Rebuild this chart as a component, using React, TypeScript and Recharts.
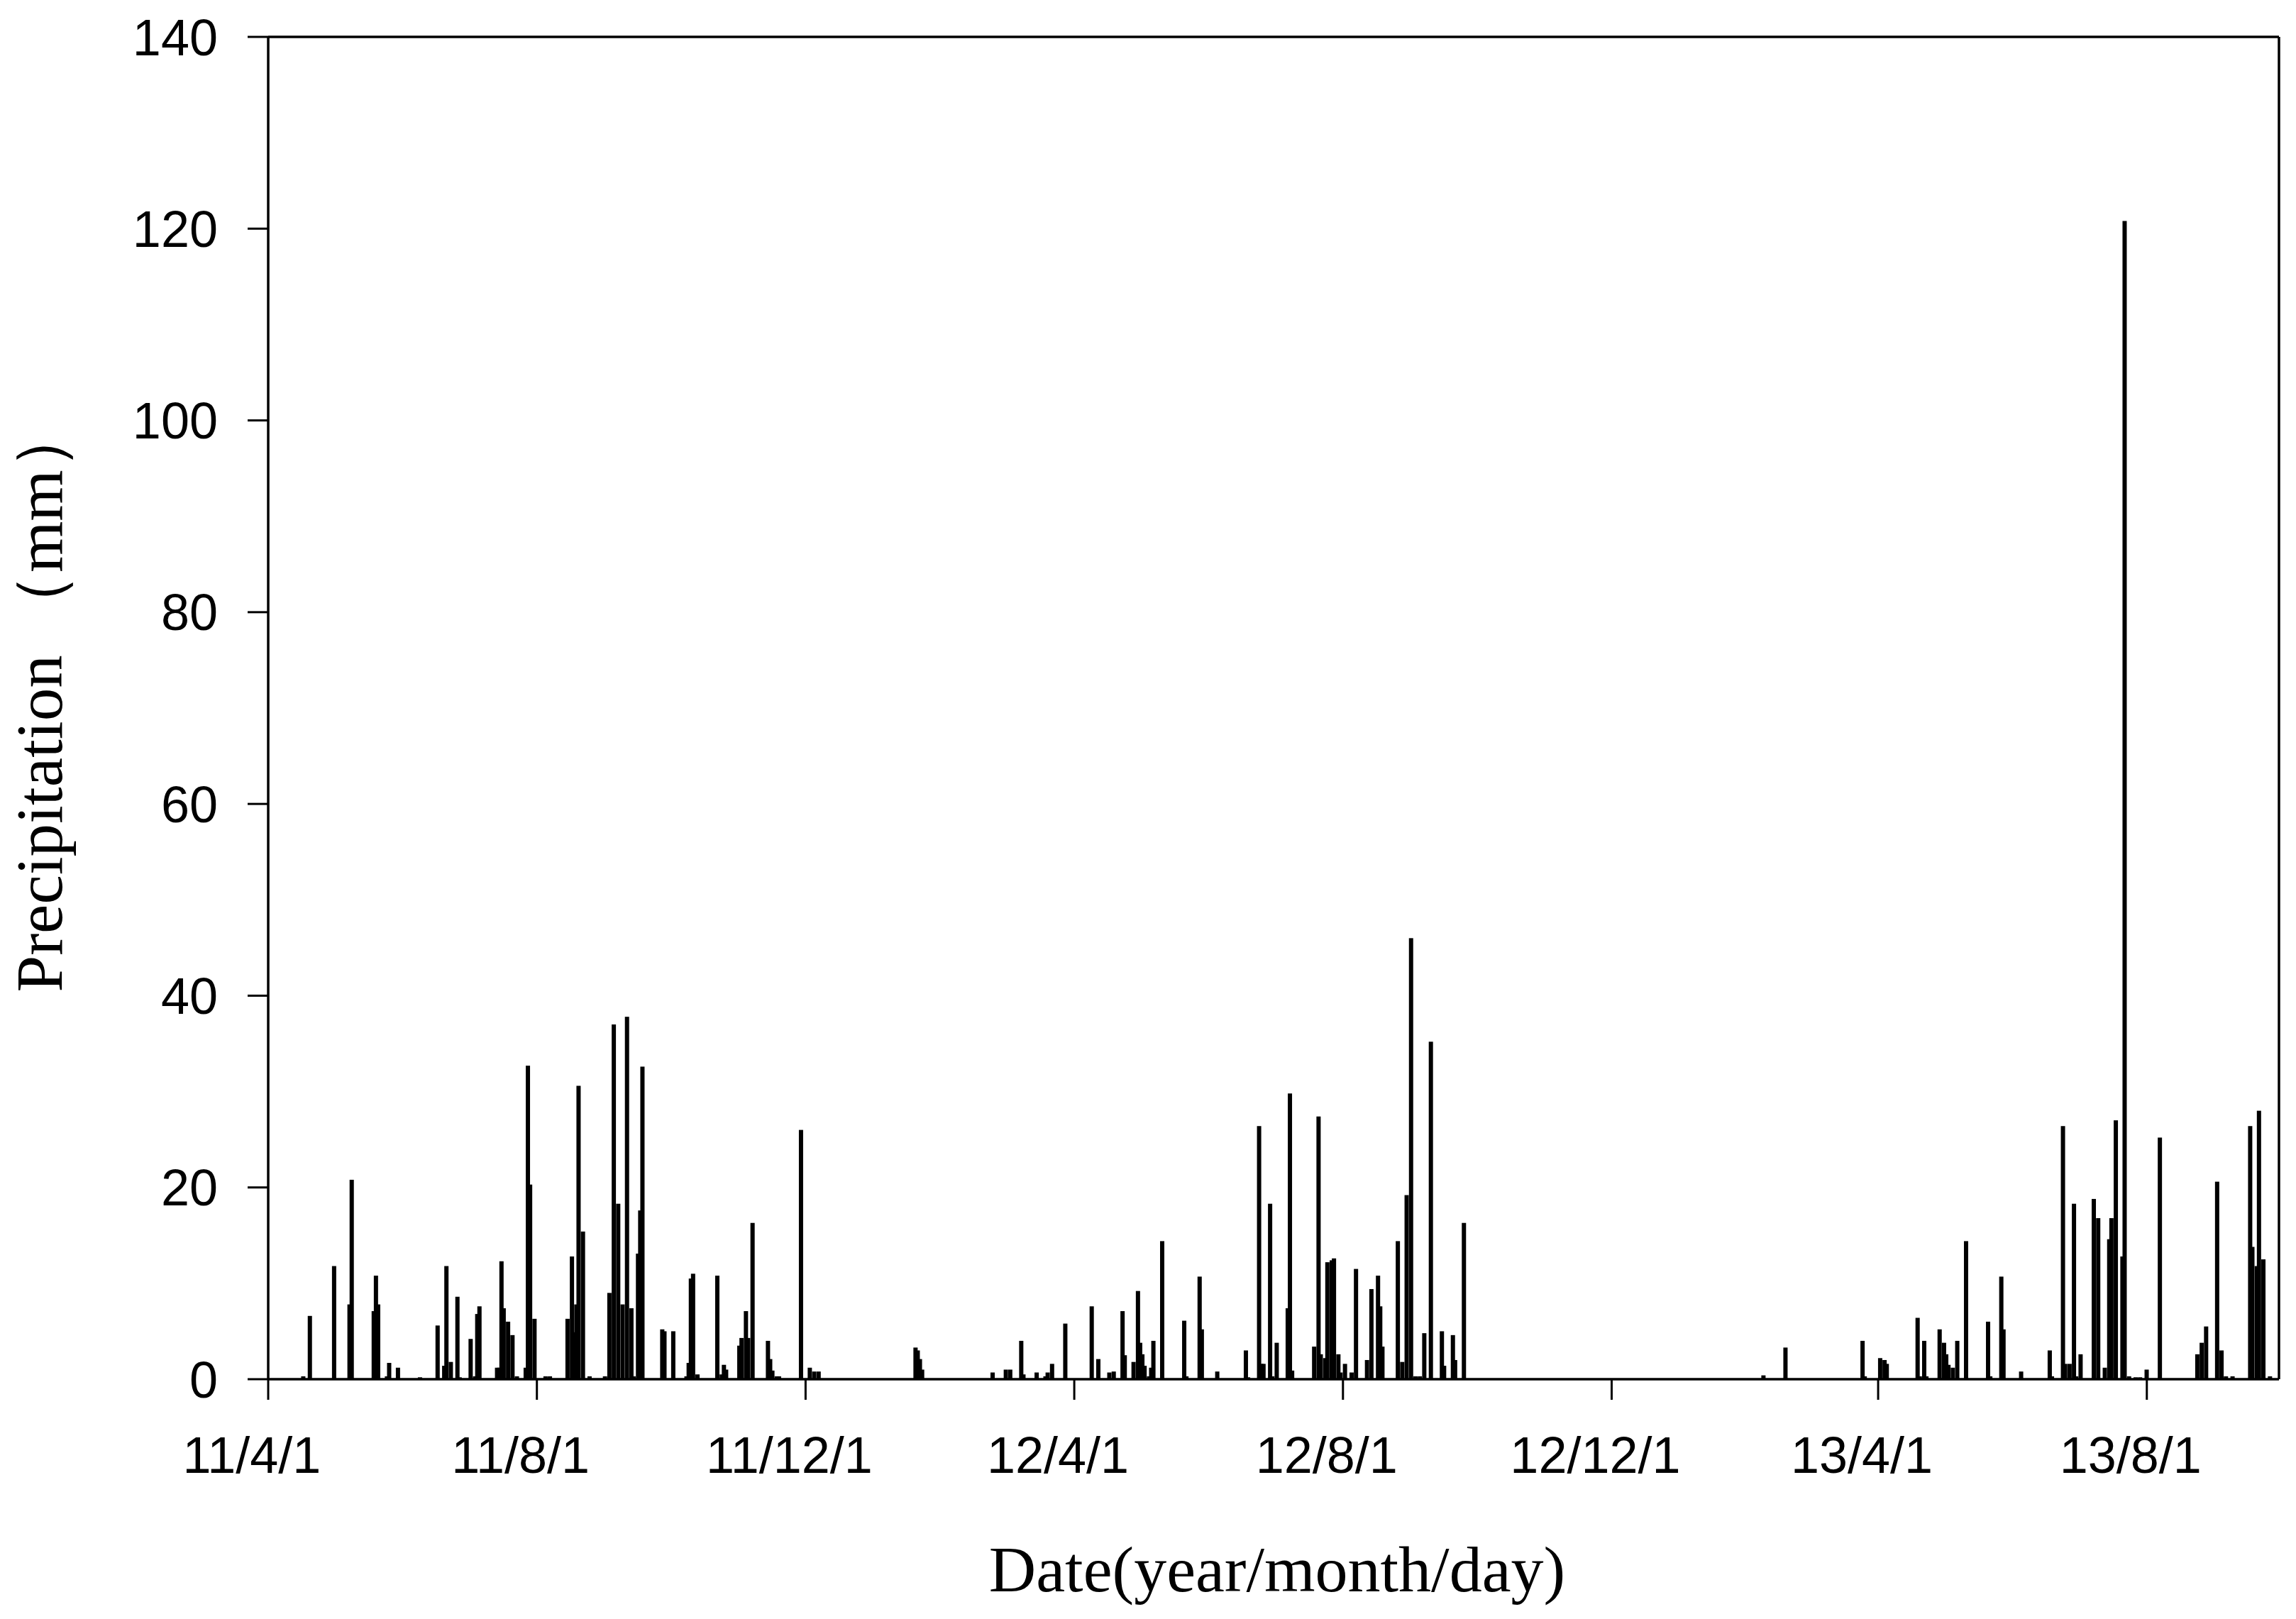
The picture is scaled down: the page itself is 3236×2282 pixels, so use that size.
import React from 'react';
import { ComposedChart, Bar, XAxis, YAxis, ReferenceLine } from 'recharts';

// x positions are day indices counted from 2011-04-01
const tickDays = [0, 122, 244, 366, 488, 610, 731, 853];
const tickLabels = ['11/4/1', '11/8/1', '11/12/1', '12/4/1', '12/8/1', '12/12/1', '13/4/1', '13/8/1'];
const yTicks = [0, 20, 40, 60, 80, 100, 120, 140];
const lastDay = 913;

const rainDays = [
  16, 19, 30, 37, 38, 48, 49, 50, 54, 55, 59, 69, 77, 80, 81, 83, 86, 87, 92, 94, 95, 96, 104, 105, 106, 107, 109, 111, 113, 117, 118, 119, 121, 126, 128,
  136, 138, 139, 140, 141, 143, 146, 153, 155, 157, 159, 161, 163, 165, 166, 168, 169, 170, 179, 180, 184, 190, 191, 192, 193, 195, 204, 206, 207, 208, 214, 215, 217, 218, 220, 227, 228, 229, 231, 232, 242, 246, 248, 250,
  294, 295, 296, 297, 329, 335, 337, 342, 343, 349, 353, 354, 356, 362, 374, 377, 382, 384, 388, 389, 393, 395, 396, 397, 398, 400, 401, 402, 406, 416, 417, 423, 424, 431, 444, 445, 450, 451, 452, 455, 456, 458, 463, 464, 465, 475, 477, 478, 480, 481, 483, 484, 486, 487, 489, 492, 494, 499, 501, 504, 505, 506, 513, 515, 517, 519, 521, 523, 525, 528, 533, 534, 538, 539, 543,
  679, 689, 724, 725, 732, 734, 735, 749, 750, 752, 753, 759, 761, 762, 763, 765, 767, 771, 781, 782, 787, 788, 796, 809, 810, 815, 816, 818, 820, 821, 823, 829, 831, 834, 836, 837, 839, 842, 843, 845, 848, 850, 853, 859, 876, 878, 880, 885, 887, 889, 892, 900, 901, 903, 904, 906, 909,
];

const rainMm = [
  0.3, 6.6, 11.8, 7.8, 20.8, 7.1, 10.8, 7.8, 0.3, 1.7, 1.2, 0.2, 5.6, 1.4, 11.8, 1.8, 8.6, 0.2, 4.2, 0.3, 6.8, 7.6, 1.2, 1.2, 12.3, 7.4, 6.0, 4.6, 0.3, 1.2, 32.7, 20.3, 6.3, 0.3, 0.3,
  6.3, 12.8, 4.9, 7.8, 30.6, 15.4, 0.3, 0.3, 9.0, 37.0, 18.3, 7.8, 37.8, 7.4, 0.3, 13.1, 17.6, 32.6, 5.2, 5.0, 5.0, 0.3, 1.7, 10.5, 11.0, 0.5, 10.8, 0.5, 1.5, 1.0, 3.5, 4.3, 7.1, 4.3, 16.3, 4.0, 2.1, 0.9, 0.3, 0.3, 26.0, 1.2, 0.8, 0.8,
  3.3, 3.0, 2.1, 1.0, 0.7, 1.0, 1.0, 4.0, 0.5, 0.7, 0.3, 0.7, 1.6, 5.8, 7.6, 2.1, 0.7, 0.8, 7.1, 2.5, 1.8, 9.2, 3.8, 2.6, 1.4, 0.3, 1.2, 4.0, 14.4, 6.1, 0.3, 10.7, 5.2, 0.8, 3.0, 0.2, 26.4, 1.6, 1.6, 18.3, 0.3, 3.8, 7.4, 29.8, 0.9, 3.4, 27.4, 2.6, 2.2, 12.2, 12.4, 12.6, 2.6, 0.7, 1.6, 0.7, 11.5, 2.0, 9.4, 10.8, 7.6, 3.4, 14.4, 1.8, 19.2, 46.0, 0.3, 0.3, 4.8, 35.2, 5.0, 1.4, 4.6, 2.0, 16.3,
  0.4, 3.3, 4.0, 0.3, 2.2, 2.0, 1.6, 6.4, 0.3, 4.0, 0.3, 5.2, 3.8, 2.6, 1.5, 1.2, 4.0, 14.4, 6.0, 0.3, 10.7, 5.2, 0.8, 3.0, 0.3, 26.4, 1.6, 1.6, 18.3, 0.3, 2.6, 18.8, 16.8, 1.2, 14.6, 16.8, 27.0, 12.8, 120.8, 0.3, 0.2, 0.2, 1.0, 25.2, 2.6, 3.8, 5.5, 20.6, 3.0, 0.3, 0.3, 26.4, 13.8, 11.8, 28.0, 12.5, 0.3,
];

const data = rainDays.map((d, i) => ({ day: d, mm: rainMm[i] }));

const SANS = '"Liberation Sans", Arial, sans-serif';
const SERIF = '"Liberation Serif", "Times New Roman", serif';

const BarShape = (props: any) => {
  const { x, y, width, height } = props;
  if (x == null || y == null || height == null || isNaN(height)) return null;
  const cx = x + width / 2;
  const w = 6;
  return <rect x={cx - w / 2} y={y} width={w} height={Math.max(height, 0)} fill="#000" />;
};

const XTick = (props: any) => {
  const { x, y, payload } = props;
  const idx = tickDays.indexOf(payload.value);
  return (
    <text x={x - 23} y={y} dy="0.71em" textAnchor="middle" fill="#000" fontSize={72} fontFamily={SANS}>
      {idx >= 0 ? tickLabels[idx] : ''}
    </text>
  );
};

const XTitle = (props: any) => {
  const vb = props.viewBox || { x: 370, y: 1936, width: 2834, height: 330 };
  return (
    <text x={vb.x + vb.width / 2 + 5} y={vb.y + 299} textAnchor="middle" fill="#000" fontSize={92} fontFamily={SERIF}>
      Date(year/month/day)
    </text>
  );
};

const YTitle = (props: any) => {
  const vb = props.viewBox || { x: 70, y: 44, width: 300, height: 1892 };
  const x = vb.x + 9;
  const y = vb.y + 932;
  return (
    <text x={x} y={y} transform={`rotate(-90, ${x}, ${y})`} textAnchor="middle" fill="#000" fontSize={93} fontFamily={SERIF}>
      Precipitation （mm）
    </text>
  );
};

export default function App() {
  return (
    <ComposedChart width={3220} height={2266} data={data} margin={{ top: 44, right: 16, bottom: 0, left: 70 }}>
      <XAxis
        dataKey="day"
        type="number"
        domain={[0, lastDay]}
        ticks={tickDays}
        interval={0}
        allowDataOverflow
        height={330}
        tickSize={29}
        tickMargin={52}
        axisLine={{ stroke: '#000', strokeWidth: 3.5 }}
        tickLine={{ stroke: '#000', strokeWidth: 3 }}
        tick={<XTick />}
        label={(p: any) => <XTitle {...p} />}
      />
      <YAxis
        type="number"
        domain={[0, 140]}
        ticks={yTicks}
        interval={0}
        allowDataOverflow
        width={300}
        tickSize={29}
        tickMargin={42}
        axisLine={{ stroke: '#000', strokeWidth: 3.5 }}
        tickLine={{ stroke: '#000', strokeWidth: 3 }}
        tick={{ fill: '#000', fontSize: 72, fontFamily: SANS }}
        label={(p: any) => <YTitle {...p} />}
      />
      <Bar dataKey="mm" fill="#000" isAnimationActive={false} shape={<BarShape />} />
      <ReferenceLine y={140} stroke="#000" strokeWidth={3.5} />
      <ReferenceLine x={lastDay} stroke="#000" strokeWidth={3.5} />
    </ComposedChart>
  );
}
